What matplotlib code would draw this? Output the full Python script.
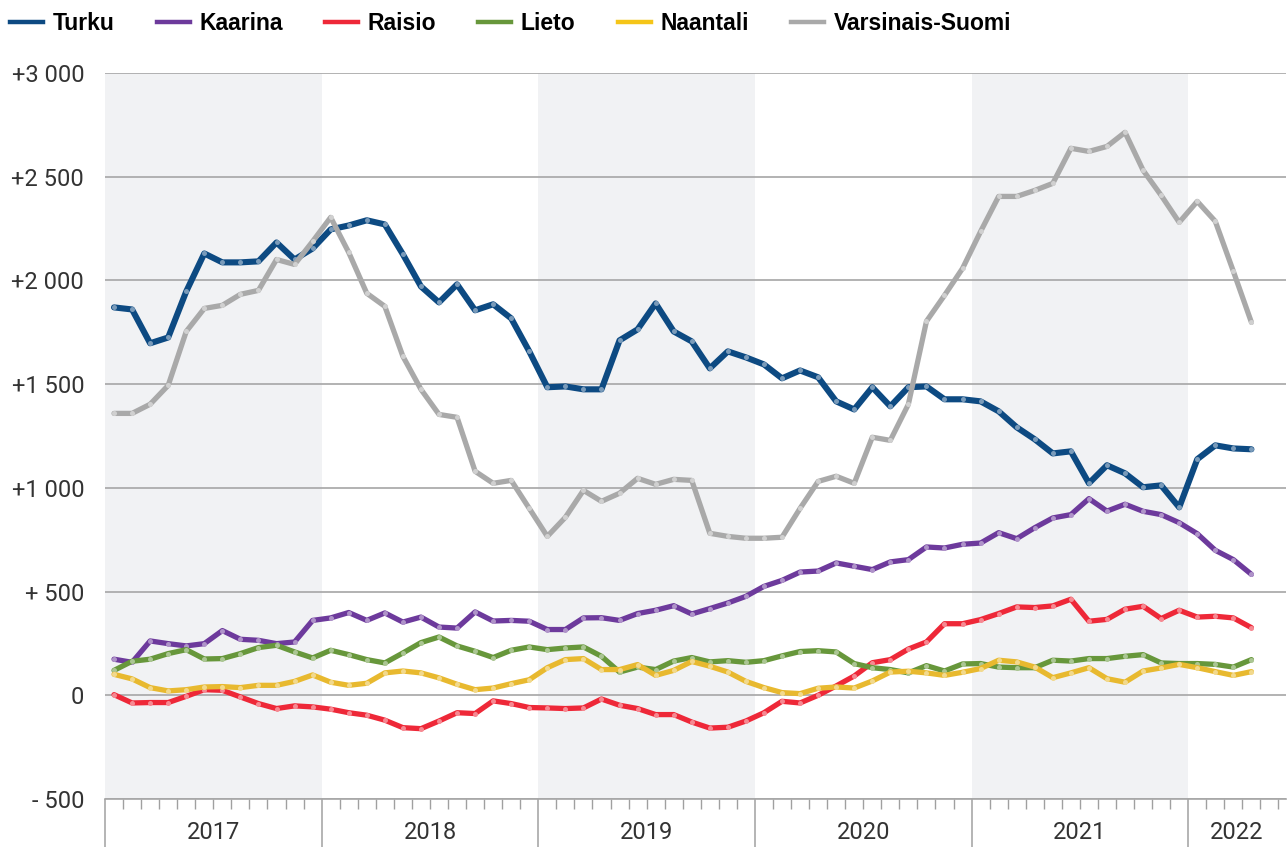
import numpy as np
import matplotlib
matplotlib.use("Agg")
import matplotlib.pyplot as plt
from matplotlib.lines import Line2D

# monthly values, Jan 2017 - Apr 2022
turku = [1870, 1860, 1697, 1725, 1947, 2130, 2087, 2087, 2092, 2183,
         2101, 2154, 2246, 2265, 2290, 2270, 2126, 1971, 1894, 1981,
         1856, 1885, 1817, 1658, 1485, 1489, 1475, 1475, 1711, 1764,
         1889, 1754, 1706, 1576, 1658, 1629, 1595, 1528, 1566, 1533,
         1417, 1378, 1485, 1393, 1485, 1489, 1427, 1427, 1417, 1369,
         1292, 1234, 1166, 1176, 1022, 1109, 1070, 1003, 1012, 906,
         1138, 1205, 1190, 1186]
kaarina = [174, 159, 262, 249, 238, 249, 312, 270, 265, 249,
           257, 361, 373, 399, 361, 397, 353, 377, 329, 324,
           402, 358, 361, 357, 317, 317, 373, 374, 361, 394,
           410, 432, 392, 418, 445, 477, 525, 554, 594, 599,
           638, 622, 606, 643, 654, 715, 710, 728, 734, 784,
           755, 808, 855, 871, 948, 888, 921, 887, 871, 832,
           779, 699, 654, 583]
raisio = [3, -37, -35, -35, -5, 27, 24, -8, -40, -64,
          -51, -56, -67, -84, -96, -120, -156, -161, -124, -84,
          -88, -27, -40, -59, -61, -64, -61, -18, -48, -64,
          -93, -93, -129, -158, -154, -124, -84, -29, -37, 0,
          45, 93, 157, 172, 223, 257, 345, 345, 365, 394,
          426, 423, 431, 463, 357, 366, 415, 429, 370, 410,
          377, 381, 373, 326]
lieto = [120, 164, 174, 201, 220, 175, 177, 201, 230, 241,
         209, 180, 217, 196, 172, 156, 204, 254, 281, 238,
         212, 182, 217, 233, 220, 228, 233, 188, 112, 136,
         124, 165, 182, 161, 167, 159, 167, 190, 211, 215,
         209, 153, 133, 124, 108, 143, 117, 151, 153, 136,
         133, 133, 169, 165, 177, 177, 188, 196, 156, 153,
         153, 149, 136, 172]
naantali = [101, 79, 37, 21, 27, 40, 42, 37, 48, 48,
            67, 98, 63, 48, 58, 108, 117, 108, 84, 53,
            27, 35, 56, 75, 133, 172, 177, 124, 124, 148,
            96, 120, 163, 140, 112, 67, 37, 13, 8, 34,
            40, 35, 69, 112, 116, 108, 96, 111, 129, 169,
            161, 136, 85, 108, 133, 80, 63, 117, 132, 149,
            133, 114, 96, 114]
varsinais = [1359, 1359, 1403, 1494, 1754, 1865, 1880, 1933, 1952, 2101,
             2077, 2188, 2304, 2135, 1938, 1875, 1634, 1475, 1354, 1340,
             1080, 1022, 1036, 901, 766, 858, 988, 935, 974, 1046,
             1017, 1041, 1036, 781, 766, 757, 757, 762, 901, 1031,
             1056, 1022, 1244, 1229, 1403, 1803, 1928, 2058, 2236, 2405,
             2405, 2434, 2468, 2637, 2622, 2646, 2714, 2531, 2410, 2280,
             2381, 2285, 2044, 1798]

names = ["Turku", "Kaarina", "Raisio", "Lieto", "Naantali", "Varsinais-Suomi"]
years = ["2017", "2018", "2019", "2020", "2021", "2022"]
ytick_vals = [-500, 0, 500, 1000, 1500, 2000, 2500, 3000]
ytick_labels = ["- 500", "0", "+ 500", "+1 000", "+1 500", "+2 000", "+2 500", "+3 000"]

series = [turku, kaarina, raisio, lieto, naantali, varsinais]
colors = ["#0d4a82", "#6d3a9c", "#ee2838", "#67973b", "#e8b92f", "#a9a9a9"]
legend_colors = ["#0d4a82", "#6d3a9c", "#ee2838", "#67973b", "#f5c518", "#a9a9a9"]
widths = [4.4, 3.8, 3.8, 3.8, 3.8, 3.8]


def lighten(c, amt=0.5):
    rgb = np.array(matplotlib.colors.to_rgb(c))
    return tuple(rgb + (1 - rgb) * amt)


x = np.arange(len(turku))
x_max = 64.9

fig = plt.figure(figsize=(12.87, 8.47), dpi=100)
ax = fig.add_axes([105 / 1287, 48 / 847, 1 - 105 / 1287 - 0.001, (799 - 73) / 847])

# alternating year bands
for k in range(0, len(years), 2):
    ax.axvspan(12 * k - 0.5, 12 * k + 11.5, color="#f1f2f4", lw=0, zorder=0)

ax.set_yticks(ytick_vals)
ax.set_yticklabels(ytick_labels, family="Roboto", fontsize=17, color="#333333")
ax.yaxis.grid(True, color="#a6a6a6", lw=1.2, zorder=0.5)
ax.tick_params(axis="y", length=0, pad=15)
ax.set_ylim(-500, 3000)
ax.set_xlim(-0.5, x_max)

for s, c, w in zip(series, colors, widths):
    ax.plot(x, s, color=c, lw=w, solid_joinstyle="round", solid_capstyle="round", zorder=3)
    ax.plot(x, s, "o", ms=3.6, color=lighten(c, 0.45), mec="none", zorder=3)

# x axis: month ticks and long year separators
year_edges = [12 * k - 0.5 for k in range(len(years))]
ax.set_xticks(year_edges)
ax.set_xticks(np.arange(-0.5, x_max, 1), minor=True)
ax.tick_params(axis="x", which="major", length=35, width=1.1, color="#a0a0a0", labelbottom=False)
ax.tick_params(axis="x", which="minor", length=7.5, width=1.0, color="#a0a0a0")
for k, yr in enumerate(years):
    left = 12 * k - 0.5
    right = min(left + 12, x_max)
    ax.text((left + right) / 2, -0.0455, yr, transform=ax.get_xaxis_transform(),
            ha="center", va="center", family="Roboto", fontsize=17, color="#333333")

for side in ["top", "left", "right"]:
    ax.spines[side].set_visible(False)
ax.spines["bottom"].set_color("#a6a6a6")
ax.spines["bottom"].set_linewidth(1.2)

handles = [Line2D([0], [0], color=c, lw=3.2) for c in legend_colors]
leg = fig.legend(handles, names, loc="center left", bbox_to_anchor=(10 / 1287, 1 - 24 / 847),
                 ncol=6, frameon=False, borderpad=0, borderaxespad=0,
                 handlelength=1.45, handletextpad=0.4, columnspacing=1.85,
                 prop={"family": "Liberation Sans", "weight": "bold", "size": 16.5})

fig.savefig("out.png", dpi=100)
